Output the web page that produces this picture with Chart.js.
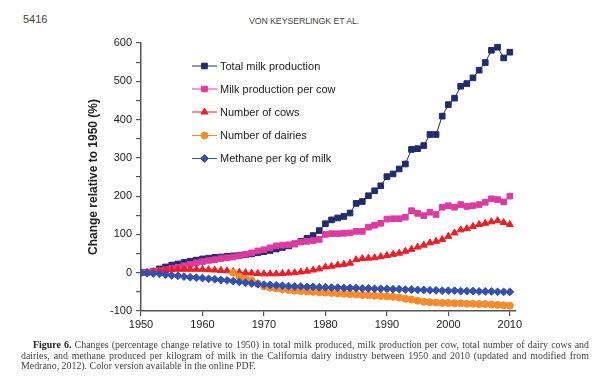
<!DOCTYPE html>
<html>
<head>
<meta charset="utf-8">
<script src="https://cdn.jsdelivr.net/npm/chart.js@4.4.1/dist/chart.umd.min.js"></script>
<style>
  html, body { margin: 0; padding: 0; background: #fff; }
  body { width: 602px; height: 381px; position: relative; overflow: hidden; }
  #c { position: absolute; left: 0; top: 0; }
  .hdr { position: absolute; font-family: "Liberation Sans", Arial, sans-serif; color: #444; }
  #pg { left: 23px; top: 13px; font-size: 11px; }
  #run { left: 249px; top: 16px; font-size: 8.8px; letter-spacing: -0.1px; }
  #cap { position: absolute; left: 21px; top: 340px; width: 568px; font-family: "Liberation Serif", "DejaVu Serif", serif;
         font-size: 9.9px; line-height: 10.5px; color: #444; text-align: justify; text-indent: 12px; }
  #cap b { color: #222; }
</style>
</head>
<body>
<div class="hdr" id="pg">5416</div>
<div class="hdr" id="run">VON KEYSERLINGK ET AL.</div>
<canvas id="c" width="602" height="381"></canvas>
<div id="cap"><b>Figure 6.</b> Changes (percentage change relative to 1950) in total milk produced, milk production per cow, total number of dairy cows and dairies, and methane produced per kilogram of milk in the California dairy industry between 1950 and 2010 (updated and modified from Medrano, 2012). Color version available in the online PDF.</div>
<script>
// ---- data ----
const years = [];
for (let y = 1950; y <= 2010; y++) years.push(y);

const totalMilk = [0,1,3,10,15,20,23,27,30,33,36,38,40,41,43,44,45,47,49,52,
  55,58,62,66,70,75,82,90,97,110,128,138,143,147,156,181,186,201,214,227,
  251,258,271,284,322,324,332,361,361,409,439,456,487,494,509,529,549,581,589,561,576];

const milkPerCow = [0,1,3,5,8,11,14,18,22,26,29,32,34,37,39,41,44,48,52,57,
  60,65,70,72,73,76,80,82,84,87,100,102,102,103,104,108,108,119,124,129,
  140,141,141,145,162,155,149,158,152,171,175,171,178,173,175,178,184,193,191,185,200];

const numCows = [0,1,3,5,7,8,9,9,9,9,9,8,7,6,5,3,1,0,-1,-2,
  -3,-3,-3,-2,-1,0,2,4,7,10,15,17,20,22,25,34,37,38,39,42,
  45,48,51,56,61,67,72,78,82,87,95,104,112,115,121,126,129,133,136,131,126];

const numDairies = [null,null,null,null,null,null,null,null,null,null,null,null,null,null,null,0,-10,-16,-20,-28,
  -36,-39,-41,-43,-45,-47,-48,-49,-50,-51,-52,-53,-54,-55,-56,-57,-58,-59,-60,-61,
  -62,-63,-65,-68,-70,-73,-76,-77,-78,-79,-79,-80,-80,-81,-81,-82,-82,-83,-84,-85,-86];

const methane = [0,-1,-2,-3,-5,-7,-8,-10,-12,-13,-14,-16,-17,-19,-20,-22,-24,-26,-28,-30,
  -31,-32,-33,-34,-35,-36,-36,-37,-37,-38,-38,-39,-39,-40,-40,-40,-41,-41,-42,-42,
  -42,-43,-43,-44,-44,-45,-45,-46,-46,-47,-47,-47,-48,-48,-48,-49,-49,-49,-50,-50,-50];

const seriesNames = ["Total milk production","Milk production per cow","Number of cows","Number of dairies","Methane per kg of milk"];
const xTickLabels = [1950,1960,1970,1980,1990,2000,2010];
const yTickLabels = [-100,0,100,200,300,400,500,600];

// ---- styles ----
const styles = [
  {color:'#222b6c', point:'rect', r:4},
  {color:'#df3aa0', point:'rect', r:4},
  {color:'#ee1d25', point:'triangle', r:4},
  {color:'#f78b2c', point:'circle', r:3.5},
  {color:'#3350b0', point:'rectRot', r:3.9}
];
const seriesData = [totalMilk, milkPerCow, numCows, numDairies, methane];

const datasets = seriesData.map((arr, i) => ({
  label: seriesNames[i],
  data: arr.map((v, k) => ({x: years[k], y: v})),
  borderColor: styles[i].color,
  backgroundColor: styles[i].color,
  pointBackgroundColor: styles[i].color,
  pointBorderColor: styles[i].color,
  pointStyle: styles[i].point,
  pointRadius: styles[i].r,
  pointBorderWidth: 1,
  borderWidth: 1,
  tension: 0,
  spanGaps: false,
  order: 5 - i
}));

const axisColor = '#555';
const FONT = '"Liberation Sans", Arial, sans-serif';

const legendPlugin = {
  id: 'insideLegend',
  afterDraw(chart) {
    const ctx = chart.ctx;
    ctx.save();
    const x0 = 192, x1 = 217, tx = 220;
    const rows = [66, 89, 112, 135.5, 158.5];
    seriesNames.forEach((name, i) => {
      const y = rows[i];
      const s = styles[i];
      ctx.strokeStyle = s.color; ctx.fillStyle = s.color; ctx.lineWidth = 1;
      ctx.beginPath(); ctx.moveTo(x0, y); ctx.lineTo(x1, y); ctx.stroke();
      Chart.helpers.drawPoint(ctx, {pointStyle: s.point, radius: s.r, rotation: 0, borderWidth: 1}, (x0 + x1) / 2, y);
      ctx.fillStyle = '#222';
      ctx.font = '11px ' + FONT;
      ctx.textBaseline = 'middle';
      ctx.textAlign = 'left';
      ctx.fillText(name, tx, y + 0.5);
    });
    ctx.restore();
  }
};

new Chart(document.getElementById('c'), {
  type: 'line',
  data: { datasets },
  options: {
    responsive: false,
    animation: false,
    devicePixelRatio: 1,
    layout: { padding: { left: 86, top: 43, right: 86, bottom: 40 } },
    plugins: { legend: { display: false }, tooltip: { enabled: false } },
    scales: {
      x: {
        type: 'linear', min: 1950, max: 2011,
        afterBuildTicks: s => { s.ticks = xTickLabels.map(v => ({value: v})); },
        afterFit: s => { s.height = 30; },
        ticks: { autoSkip: false, maxRotation: 0, padding: 2, color: '#222', font: {family: FONT, size: 11},
                 callback: v => String(v) },
        grid: { display: true, drawOnChartArea: false, drawTicks: true, tickLength: 5, color: axisColor, lineWidth: 1.2 },
        border: { display: true, color: axisColor, width: 1.5 }
      },
      y: {
        min: -100, max: 600,
        afterBuildTicks: s => { const t = []; for (let v = -100; v <= 600; v += 50) t.push({value: v}); s.ticks = t; },
        afterFit: s => { s.width = 55; },
        ticks: { autoSkip: false, padding: 4, color: '#222', font: {family: FONT, size: 11},
                 callback: v => (yTickLabels.includes(v) ? String(v) : '') },
        grid: { display: true, drawOnChartArea: false, drawTicks: true, tickLength: 5, color: axisColor, lineWidth: 1.2 },
        border: { display: true, color: axisColor, width: 1.5 },
        title: { display: true, text: 'Change relative to 1950 (%)', color: '#222',
                 font: {family: FONT, size: 12, weight: 'bold'}, padding: {top: 0, bottom: 0} }
      }
    }
  },
  plugins: [legendPlugin]
});
</script>
</body>
</html>
